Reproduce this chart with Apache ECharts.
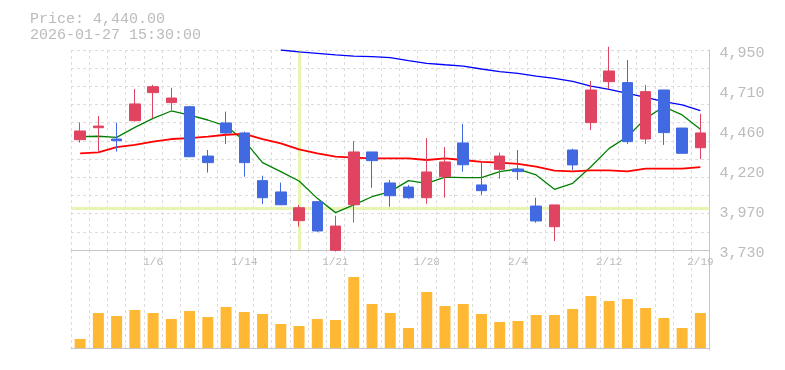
<!DOCTYPE html>
<html><head><meta charset="utf-8">
<script src="https://cdn.jsdelivr.net/npm/echarts@6/dist/echarts.min.js"></script>
<style>html,body{margin:0;padding:0;background:#fff}#c{width:785px;height:370px}</style>
</head><body><div id="c"></div>
<script>
const dates = ['12/26','12/29','12/30','1/5','1/6','1/7','1/8','1/9','1/13','1/14','1/15','1/16','1/19','1/20','1/21','1/22','1/23','1/26','1/27','1/28','1/29','1/30','2/2','2/3','2/4','2/5','2/6','2/9','2/10','2/12','2/13','2/16','2/17','2/18','2/19'];
const openP  = [4403,4476,4407,4519,4690,4629,4604,4303,4505,4444,4153,4084,3909,4025,3728,4006,4328,4139,4114,4049,4177,4383,4127,4222,4224,3998,3872,4340,4507,4757,4751,4407,4706,4474,4354];
const closeP = [4456,4486,4397,4621,4726,4657,4299,4263,4444,4263,4049,4006,3988,3846,3876,4328,4275,4061,4049,4206,4267,4250,4092,4303,4208,3907,4005,4249,4706,4822,4391,4696,4446,4320,4444];
const lowP   = [4385,4324,4330,4513,4533,4584,4296,4202,4377,4177,4011,4004,3872,3840,3720,3897,4110,3994,4043,4012,4049,4208,4066,4165,4157,3897,3785,4218,4462,4712,4377,4377,4371,4316,4285];
const highP  = [4507,4547,4507,4712,4737,4720,4610,4340,4574,4452,4183,4141,4005,4025,3939,4395,4328,4157,4127,4413,4358,4499,4273,4324,4340,4049,4005,4348,4761,4970,4889,4737,4706,4474,4561];
const ma5  = [4421,4424,4417,4478,4533,4578,4553,4523,4486,4397,4263,4208,4151,4045,3958,4005,4055,4086,4153,4137,4174,4171,4171,4208,4224,4188,4100,4137,4238,4350,4421,4533,4604,4554,4466];
const ma25 = [4320,4326,4357,4371,4391,4407,4413,4421,4433,4438,4407,4381,4344,4320,4299,4293,4289,4289,4289,4279,4289,4279,4267,4263,4255,4238,4214,4210,4216,4216,4210,4226,4226,4226,4236];
const ma75 = [null,null,null,null,null,null,null,null,null,null,null,4950,4938,4930,4920,4913,4909,4903,4885,4869,4860,4852,4834,4818,4808,4791,4777,4759,4730,4710,4686,4661,4635,4615,4580];
const volume = [9,35,32,38,35,29,37,31,41,36,34,24,22,29,28,71,44,35,20,56,42,44,34,26,27,33,33,39,52,47,49,40,30,20,35];
const priceTicks = ['3,730','3,970','4,220','4,460','4,710','4,950'];
const priceMin = 3730, priceMax = 4950;
const headerPrice = 'Price: 4,440.00';
const headerTime = '2026-01-27 15:30:00';
const crosshairDate = '1/19';
const crosshairPrice = 3984;

const MONO = 'Liberation Mono';
const TXT = '#bbbbbb';
const AXIS = '#c6c6c6';
const GRIDC = '#dcdcdc';
const candles = dates.map((d, i) => [openP[i], closeP[i], lowP[i], highP[i]]);

const chart = echarts.init(document.getElementById('c'), null, {renderer: 'canvas'});
chart.setOption({
  animation: false,
  graphic: [
    {type: 'text', left: 30, top: 12, style: {text: headerPrice, fill: TXT, font: '15px "' + MONO + '"'}},
    {type: 'text', left: 30, top: 28, style: {text: headerTime, fill: TXT, font: '15px "' + MONO + '"'}}
  ],
  grid: [
    {left: 71, right: 75.5, top: 50, height: 200},
    {left: 71, right: 75.5, top: 250, height: 100}
  ],
  xAxis: [
    {type: 'category', gridIndex: 0, data: dates, boundaryGap: true,
     axisLine: {show: true, lineStyle: {color: AXIS, width: 1}},
     axisTick: {show: false},
     axisLabel: {interval: (i) => i % 5 === 4, color: TXT, fontFamily: MONO, fontSize: 11, margin: 7},
     splitLine: {show: true, interval: 0, lineStyle: {color: GRIDC, type: [3, 3]}}},
    {type: 'category', gridIndex: 1, data: dates, boundaryGap: true,
     axisLine: {show: true, lineStyle: {color: AXIS, width: 1}},
     axisTick: {show: false}, axisLabel: {show: false},
     splitLine: {show: true, interval: 0, lineStyle: {color: GRIDC, type: [3, 3]}}}
  ],
  yAxis: [
    {type: 'value', gridIndex: 0, position: 'left', min: priceMin, max: priceMax, show: false},
    {type: 'value', gridIndex: 0, position: 'right', min: 0, max: 11, interval: 1,
     axisLine: {show: false}, axisTick: {show: false}, axisLabel: {show: false},
     splitLine: {show: true, lineStyle: {color: GRIDC, type: [3, 3]}}},
    {type: 'value', gridIndex: 0, position: 'right', min: 0, max: priceTicks.length - 1, interval: 1,
     axisLine: {show: true, lineStyle: {color: AXIS}}, axisTick: {show: false},
     axisLabel: {formatter: (v) => priceTicks[v], color: TXT, fontFamily: MONO, fontSize: 15, margin: 10,
                 verticalAlign: 'top', lineHeight: 7},
     splitLine: {show: false}},
    {type: 'value', gridIndex: 1, position: 'right', min: -2, max: 98,
     axisLine: {show: true, lineStyle: {color: AXIS}}, axisTick: {show: false}, axisLabel: {show: false},
     splitLine: {show: false}}
  ],
  series: [
    {type: 'candlestick', name: 'price', xAxisIndex: 0, yAxisIndex: 0, data: candles, barWidth: 11, z: 3, clip: true,
     itemStyle: {color: '#e04460', color0: '#4169e1', borderColor: '#e04460', borderColor0: '#4169e1', borderWidth: 1},
     markLine: {silent: true, z: 1, symbol: ['none', 'none'], animation: false,
       label: {show: false}, emphasis: {disabled: true},
       lineStyle: {color: '#e6f5b2', width: 3, type: 'solid', opacity: 1},
       data: [{xAxis: crosshairDate}, {yAxis: crosshairPrice}]}},
    {type: 'line', name: 'MA5', xAxisIndex: 0, yAxisIndex: 0, data: ma5, showSymbol: false, symbol: 'none', z: 2,
     lineStyle: {color: '#008000', width: 1.3}},
    {type: 'line', name: 'MA25', xAxisIndex: 0, yAxisIndex: 0, data: ma25, showSymbol: false, symbol: 'none', z: 2,
     lineStyle: {color: '#ff0000', width: 1.8}},
    {type: 'line', name: 'MA75', xAxisIndex: 0, yAxisIndex: 0, data: ma75, showSymbol: false, symbol: 'none', z: 2,
     lineStyle: {color: '#0000ff', width: 1.3}},
    {type: 'bar', name: 'volume', xAxisIndex: 1, yAxisIndex: 3, data: volume, barWidth: 11,
     itemStyle: {color: '#ffb833'}}
  ]
});
</script></body></html>
